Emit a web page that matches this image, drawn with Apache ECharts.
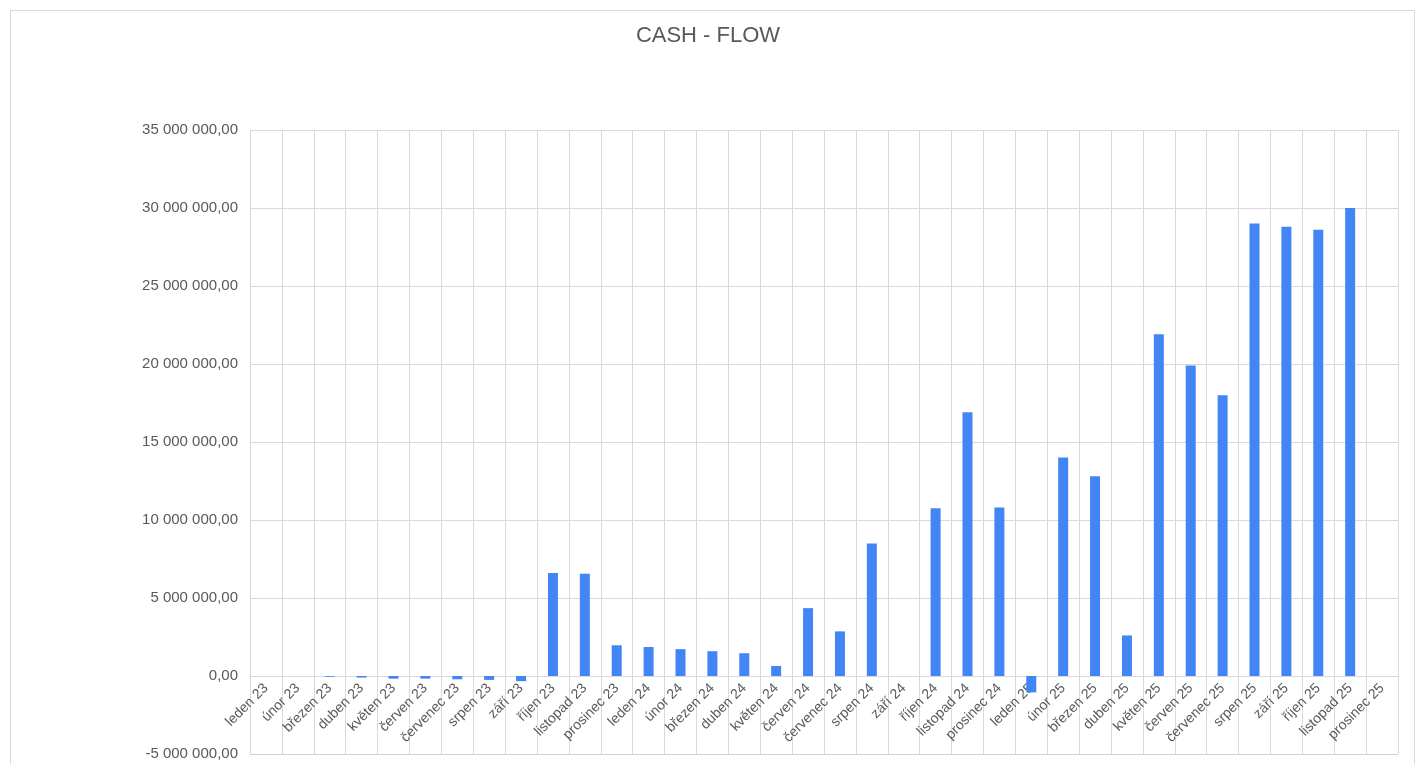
<!DOCTYPE html>
<html>
<head>
<meta charset="utf-8">
<script src="https://cdn.jsdelivr.net/npm/echarts@6/dist/echarts.min.js"></script>
<style>
html,body{margin:0;padding:0;background:#fff;}
#chart{width:1416px;height:764px;}
</style>
</head>
<body>
<div id="chart"></div>
<script>
const months = ['leden 23','únor 23','březen 23','duben 23','květen 23','červen 23','červenec 23','srpen 23','září 23','říjen 23','listopad 23','prosinec 23',
'leden 24','únor 24','březen 24','duben 24','květen 24','červen 24','červenec 24','srpen 24','září 24','říjen 24','listopad 24','prosinec 24',
'leden 25','únor 25','březen 25','duben 25','květen 25','červen 25','červenec 25','srpen 25','září 25','říjen 25','listopad 25','prosinec 25'];
const cashFlow = [0, 0, -50000, -100000, -170000, -170000, -210000, -250000, -330000, 6600000, 6560000, 1970000,
1860000, 1720000, 1590000, 1460000, 640000, 4350000, 2860000, 8500000, 0, 10750000, 16900000, 10800000,
-1050000, 14000000, 12800000, 2600000, 21900000, 19900000, 18000000, 29000000, 28800000, 28600000, 30000000, 0];
const titleText = 'CASH - FLOW';
const yMin = -5000000, yMax = 35000000, yStep = 5000000;

function fmt(v){
  const neg = v < 0;
  let s = Math.abs(Math.round(v)).toString();
  s = s.replace(/\B(?=(\d{3})+(?!\d))/g, ' ');
  return (neg ? '-' : '') + s + ',00';
}

const chart = echarts.init(document.getElementById('chart'), null, {renderer:'canvas'});
chart.setOption({
  animation:false,
  backgroundColor:'#ffffff',
  textStyle:{fontFamily:'Liberation Sans, Arial, sans-serif'},
  graphic:[{type:'rect', shape:{x:10.5,y:10.5,width:1404,height:800}, style:{fill:'none', stroke:'#d9d9d9', lineWidth:1}, silent:true}],
  title:{text:titleText, left:'center', top:20, textStyle:{fontSize:22, fontWeight:'normal', color:'#595959', fontFamily:'Liberation Sans, Arial, sans-serif'}},
  grid:{left:250, right:18, top:130, bottom:10, containLabel:false, outerBoundsMode:'none'},
  xAxis:{type:'category', data:months, boundaryGap:true, position:'bottom', offset:0, z:0,
    axisLine:{show:true, onZero:false, lineStyle:{color:'#d9d9d9'}},
    axisTick:{show:false},
    splitLine:{show:true, interval:0, lineStyle:{color:'#d9d9d9', width:1}},
    axisLabel:{interval:0, rotate:45, fontSize:14, color:'#595959', margin:10}},
  yAxis:{type:'value', min:yMin, max:yMax, interval:yStep,
    axisLine:{show:false}, axisTick:{show:false},
    splitLine:{show:true, showMinLine:true, showMaxLine:true, lineStyle:{color:'#d9d9d9', width:1}},
    axisLabel:{formatter:fmt, fontSize:15, color:'#595959', margin:12}},
  series:[{type:'bar', data:cashFlow, barWidth:10, z:5, itemStyle:{color:'#4285f4'},
    markLine:{silent:true, symbol:['none','none'], label:{show:false}, animation:false,
      lineStyle:{color:'#d0d0d0', type:'solid', width:1},
      data:[{yAxis:yMin}]}}]
});
// place the labelled category axis on the zero line of the value axis
const yBottom = chart.convertToPixel({yAxisIndex:0}, yMin);
const yZero = chart.convertToPixel({yAxisIndex:0}, 0);
chart.setOption({xAxis:{offset: -(yBottom - yZero)}});
</script>
</body>
</html>
